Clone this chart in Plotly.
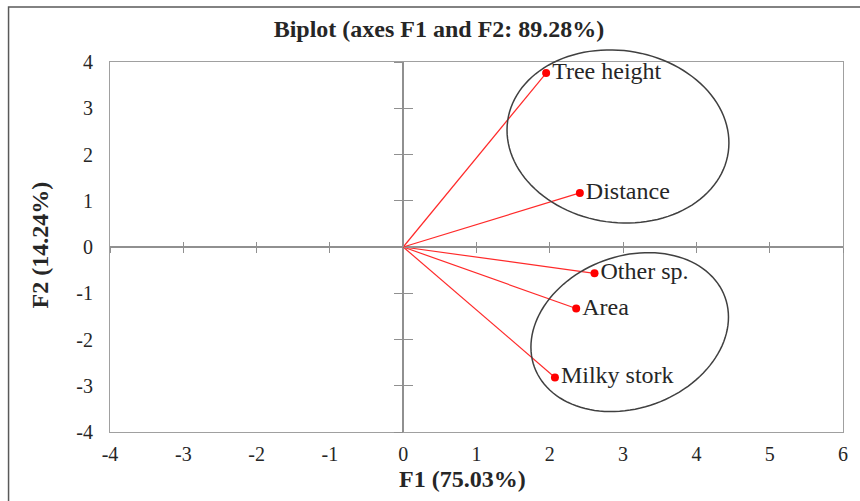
import numpy as np
import plotly.graph_objects as go

# ---- data ----
variables = ["Tree height", "Distance", "Other sp.", "Area", "Milky stork"]
f1_values = [1.95, 2.41, 2.61, 2.36, 2.07]
f2_values = [3.76, 1.17, -0.57, -1.33, -2.82]
x_ticks = [-4, -3, -2, -1, 0, 1, 2, 3, 4, 5, 6]
y_ticks = [-4, -3, -2, -1, 0, 1, 2, 3, 4]
title_text = "Biplot (axes F1 and F2: 89.28%)"
x_title = "F1 (75.03%)"
y_title = "F2 (14.24%)"

# group ellipses: centre (data units), semi-axes (px), tilt (deg)
ell_cx = [2.93, 3.09]
ell_cy = [2.39, -1.84]
ell_a = [112, 102]
ell_b = [86, 76]
ell_tilt = [-8, 20]

XMIN, XMAX = -4, 6
YMIN, YMAX = -4, 4
W, H = 860, 501
ML, MR, MT, MB = 110, 13, 62, 69
PW, PH = W - ML - MR, H - MT - MB

FONT = "Liberation Serif"
TXT = "#262626"
GRAY = "#a0a0a0"

fig = go.Figure()

# vectors from the origin
lx, ly = [], []
for xv, yv in zip(f1_values, f2_values):
    lx += [0, xv, None]
    ly += [0, yv, None]
fig.add_trace(go.Scatter(x=lx, y=ly, mode="lines",
                         line=dict(color="#ff2a2a", width=1.2),
                         hoverinfo="skip", showlegend=False))
fig.add_trace(go.Scatter(x=f1_values, y=f2_values, mode="markers+text",
                         text=variables, textposition="middle right",
                         textfont=dict(family=FONT, size=24, color=TXT),
                         marker=dict(color="#ff0000", size=8),
                         cliponaxis=False, showlegend=False))

# dummy traces so that the tick-only overlay axes are drawn
for xa, ya in [("x2", "y"), ("x3", "y"), ("x", "y2"), ("x", "y3")]:
    fig.add_trace(go.Scatter(x=[None], y=[None], xaxis=xa, yaxis=ya,
                             showlegend=False, hoverinfo="skip"))

# ellipses as paper-referenced paths
def to_px(xv, yv):
    return (xv - XMIN) / (XMAX - XMIN), (yv - YMIN) / (YMAX - YMIN)

t = np.linspace(0, 2 * np.pi, 121)
shapes = []
for cx, cy, a, b, th in zip(ell_cx, ell_cy, ell_a, ell_b, ell_tilt):
    r = np.deg2rad(th)
    u = a * np.cos(t) * np.cos(r) - b * np.sin(t) * np.sin(r)
    v = a * np.cos(t) * np.sin(r) + b * np.sin(t) * np.cos(r)
    pcx, pcy = to_px(cx, cy)
    px = pcx + u / PW
    py = pcy + v / PH
    path = "M " + " L ".join(f"{p:.5f},{q:.5f}" for p, q in zip(px, py)) + " Z"
    shapes.append(dict(type="path", path=path, xref="paper", yref="paper",
                       line=dict(color="#404040", width=1.5)))

# outer frame of the chart
shapes.append(dict(type="rect", xref="paper", yref="paper",
                   x0=(8 - ML) / PW, x1=(W + 20 - ML) / PW,
                   y0=(H - MB - (H + 20)) / PH, y1=1 + (MT - 7) / PH,
                   line=dict(color="#595959", width=1.5)))

x_zero_pos = (0 - XMIN) / (XMAX - XMIN)
y_zero_pos = (0 - YMIN) / (YMAX - YMIN)

common_tick = dict(showgrid=False, zeroline=False, showline=False,
                   showticklabels=False, tickcolor="#909090", tickwidth=1.2)

fig.update_layout(
    width=W, height=H,
    margin=dict(l=ML, r=MR, t=MT, b=MB, pad=0),
    paper_bgcolor="white", plot_bgcolor="white",
    title=dict(text=f"<b>{title_text}</b>", x=439 / W, xanchor="center",
               y=1 - 29 / H, yanchor="middle",
               font=dict(family=FONT, size=24, color=TXT)),
    xaxis=dict(range=[XMIN, XMAX], tickvals=x_ticks,
               ticktext=[str(v) for v in x_ticks],
               showgrid=False, zeroline=True, zerolinecolor="#909090",
               zerolinewidth=1.5, showline=True, mirror=True,
               linecolor=GRAY, linewidth=1.2, ticks="", ticklabelstandoff=4,
               tickfont=dict(family=FONT, size=20, color=TXT)),
    yaxis=dict(range=[YMIN, YMAX], tickvals=y_ticks,
               ticktext=[str(v) for v in y_ticks],
               showgrid=False, zeroline=True, zerolinecolor="#909090",
               zerolinewidth=1.5, showline=True, mirror=True,
               linecolor=GRAY, linewidth=1.2, ticks="", ticklabelstandoff=12,
               tickfont=dict(family=FONT, size=20, color=TXT)),
    xaxis2=dict(overlaying="x", anchor="free", position=y_zero_pos,
                range=[XMIN, XMAX], tickvals=x_ticks, ticks="outside",
                ticklen=5, **common_tick),
    xaxis3=dict(overlaying="x", anchor="free", position=y_zero_pos,
                range=[XMIN, XMAX], tickvals=x_ticks, ticks="inside",
                ticklen=5, **common_tick),
    yaxis2=dict(overlaying="y", anchor="free", position=x_zero_pos,
                range=[YMIN, YMAX], tickvals=y_ticks, ticks="outside",
                ticklen=9, **common_tick),
    yaxis3=dict(overlaying="y", anchor="free", position=x_zero_pos,
                range=[YMIN, YMAX], tickvals=y_ticks, ticks="inside",
                ticklen=9, **common_tick),
    shapes=shapes,
    annotations=[
        dict(text=f"<b>{x_title}</b>", xref="paper", yref="paper",
             x=(464 - ML) / PW, y=-(479 - (H - MB)) / PH,
             xanchor="center", yanchor="middle", showarrow=False,
             font=dict(family=FONT, size=24, color=TXT)),
        dict(text=f"<b>{y_title}</b>", xref="paper", yref="paper",
             x=(40 - ML) / PW, y=((H - MB) - 245) / PH, textangle=-90,
             xanchor="center", yanchor="middle", showarrow=False,
             font=dict(family=FONT, size=24, color=TXT)),
    ],
    showlegend=False,
)

fig.write_html("out.html", config={"displayModeBar": False},
               post_script="document.body.style.margin='0px';")
